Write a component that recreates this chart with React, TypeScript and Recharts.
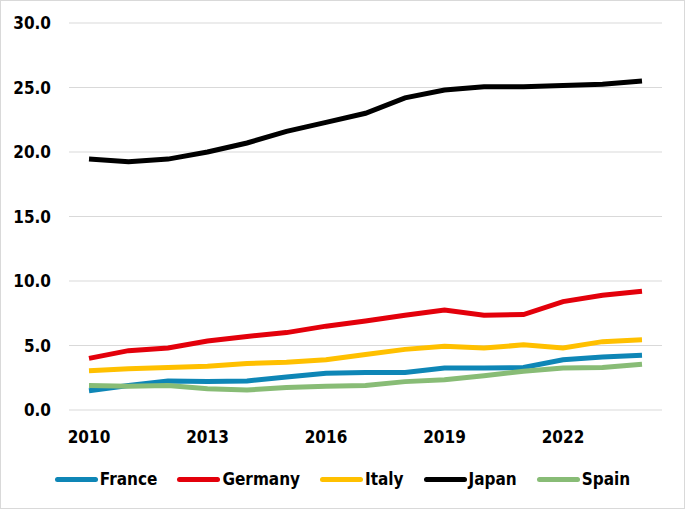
import { CartesianGrid, Legend, Line, LineChart, XAxis, YAxis } from 'recharts';

const years = ['2010', '2011', '2012', '2013', '2014', '2015', '2016', '2017', '2018', '2019', '2020', '2021', '2022', '2023', '2024'];
const france = [1.5, 1.9, 2.25, 2.2, 2.25, 2.55, 2.85, 2.9, 2.9, 3.25, 3.25, 3.3, 3.9, 4.1, 4.25];
const germany = [4.0, 4.6, 4.8, 5.35, 5.7, 6.0, 6.5, 6.9, 7.35, 7.75, 7.35, 7.4, 8.4, 8.9, 9.2];
const italy = [3.05, 3.2, 3.3, 3.4, 3.6, 3.7, 3.9, 4.3, 4.7, 4.95, 4.8, 5.05, 4.8, 5.3, 5.45];
const japan = [19.45, 19.25, 19.45, 20.0, 20.7, 21.6, 22.3, 23.0, 24.2, 24.8, 25.05, 25.05, 25.15, 25.25, 25.5];
const spain = [1.9, 1.85, 1.9, 1.65, 1.55, 1.75, 1.85, 1.9, 2.2, 2.35, 2.65, 3.0, 3.25, 3.3, 3.55];
const yTicks = [0, 5, 10, 15, 20, 25, 30];

const series = [
  { key: 'France', color: '#0E86B6' },
  { key: 'Germany', color: '#E3000B' },
  { key: 'Italy', color: '#FFC000' },
  { key: 'Japan', color: '#000000' },
  { key: 'Spain', color: '#88BC76' }
];

const data = years.map((year, i) => ({
  year,
  France: france[i],
  Germany: germany[i],
  Italy: italy[i],
  Japan: japan[i],
  Spain: spain[i]
}));

const font = "'DejaVu Sans Condensed', 'DejaVu Sans', sans-serif";

const LegendContent = () => (
  <div
    style={{
      display: 'flex',
      justifyContent: 'center',
      alignItems: 'center',
      gap: 20,
      fontFamily: font,
      fontWeight: 700,
      fontSize: 17,
      color: '#000'
    }}
  >
    {series.map((s) => (
      <div key={s.key} style={{ display: 'flex', alignItems: 'center', gap: 2 }}>
        <span style={{ display: 'inline-block', width: 43, height: 5, borderRadius: 2.5, background: s.color }} />
        <span>{s.key}</span>
      </div>
    ))}
  </div>
);

const App = () => {
  return (
    <div
      style={{
        position: 'absolute',
        left: 0,
        top: 0,
        width: 685,
        height: 509,
        border: '1px solid #D9D9D9',
        boxSizing: 'border-box',
        background: '#fff'
      }}
    >
      <LineChart width={683} height={507} data={data} margin={{ top: 22, right: 22, bottom: 58, left: 0 }}>
        <CartesianGrid vertical={false} stroke="#D9D9D9" strokeWidth={1} />
        <XAxis
          dataKey="year"
          interval={2}
          axisLine={false}
          tickLine={false}
          tickSize={0}
          tickMargin={21}
          height={40}
          padding={{ left: 20, right: 20 }}
          tick={{ fill: '#000', fontSize: 17, fontWeight: 700, fontFamily: font }}
        />
        <YAxis
          domain={[0, 30]}
          ticks={yTicks}
          width={68}
          axisLine={false}
          tickLine={false}
          tickSize={0}
          tickMargin={18}
          tickFormatter={(v: number) => v.toFixed(1)}
          tick={{ fill: '#000', fontSize: 17, fontWeight: 700, fontFamily: font }}
        />
        <Legend verticalAlign="middle" layout="horizontal" wrapperStyle={{ top: 468, left: 0, width: 683 }} content={<LegendContent />} />
        {series.map((s) => (
          <Line
            key={s.key}
            type="linear"
            dataKey={s.key}
            stroke={s.color}
            strokeWidth={5}
            dot={false}
            activeDot={false}
            isAnimationActive={false}
          />
        ))}
      </LineChart>
    </div>
  );
};

export default App;
